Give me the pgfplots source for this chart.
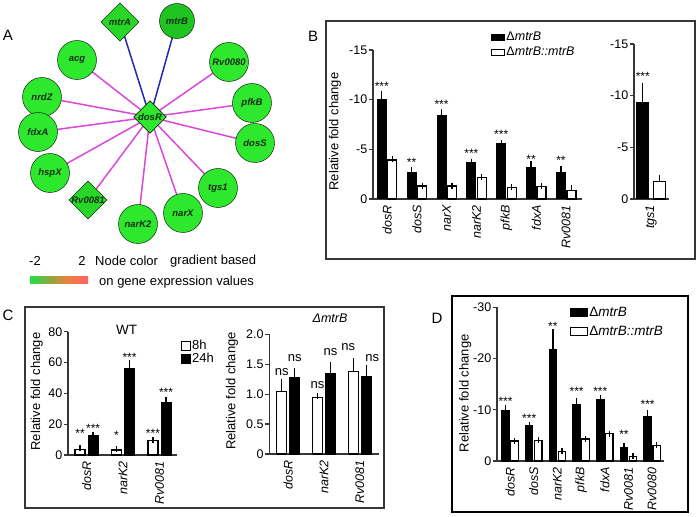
\documentclass[border=0pt]{standalone}
\usepackage{pgfplots}
\pgfplotsset{compat=1.18}
\usepackage{fontspec}
\setmainfont{Liberation Sans}
\definecolor{ngreen}{RGB}{46,232,46}
\definecolor{ngreenD}{RGB}{32,196,32}
\definecolor{ngreenM}{RGB}{40,214,40}
\definecolor{emag}{RGB}{218,72,218}
\definecolor{eblue}{RGB}{36,40,176}
\definecolor{axg}{RGB}{55,55,55}
\definecolor{ntext}{RGB}{20,45,20}
\definecolor{gA}{RGB}{30,222,70}
\definecolor{gB}{RGB}{130,175,60}
\definecolor{gC}{RGB}{236,128,64}
\definecolor{gD}{RGB}{255,98,98}
\pgfdeclarehorizontalshading{exprgrad}{100bp}{color(0bp)=(gA); color(25bp)=(gA); color(40bp)=(gB); color(58bp)=(gC); color(75bp)=(gD); color(100bp)=(gD)}
\newcommand{\fs}[1]{\fontsize{#1}{#1}\selectfont}
\newcommand{\stt}[4]{\node[font=\fs{12}, inner sep=0pt, yshift=-2.7pt, xshift=#3] at (axis cs:#1,#2) {#4};}
\newcommand{\nsl}[3]{\node[font=\fs{13}, inner sep=0pt, xshift=#3] at (axis cs:#1,#2) {ns};}
\pgfplotsset{
  gp/.style={
    scale only axis, anchor=south west, clip=false,
    axis x line*=bottom, axis y line*=left,
    axis line style={line width=1.3pt, draw=axg},
    tick align=outside, major tick length=4pt,
    ytick style={line width=1.2pt, draw=axg},
    xtick style={draw=none},
    yticklabel style={font=\fs{12.5}, inner sep=1.5pt},
    xticklabel style={rotate=90, anchor=east, font=\fs{12.5}\itshape, inner sep=2pt},
    every axis y label/.style={rotate=90, anchor=center, font=\fs{13}},
    /pgf/number format/assume math mode=true,
    xtick=data, enlargelimits=false,
    error bars/error bar style={line width=1.2pt, black},
    error bars/error mark options={line width=1.2pt, mark size=3pt, black},
    legend cell align=left,
  },
  bk/.style={fill=black, draw=black, line width=1pt},
  wh/.style={fill=white, draw=black, line width=1.2pt},
  legB/.style={legend image code/.code={\draw[##1] (0pt,-3pt) rectangle (13pt,3pt);}},
  legC/.style={legend image code/.code={\draw[##1] (0pt,-4.5pt) rectangle (9pt,4.5pt);}},
  legD/.style={legend image code/.code={\draw[##1] (0pt,-4pt) rectangle (17pt,4pt);}},
}
\begin{document}
\begin{tikzpicture}
\useasboundingbox (0pt,0pt) rectangle (700pt,516pt);

% ---------------- Panel A: network ----------------
\node[font=\fs{15}] at (8pt,481pt) {A};
\begin{axis}[at={(0pt,266pt)}, anchor=south west, scale only axis, width=270pt, height=250pt,
  xmin=0, xmax=270, ymin=0, ymax=250, hide axis, clip=false]
\addplot[eblue, line width=1.5pt, no marks] coordinates {(150,133) (120,228)};
\addplot[eblue, line width=1.5pt, no marks] coordinates {(150,133) (177,229)};
\addplot[emag, line width=1.5pt, no marks] coordinates {(150,133) (77,190)};
\addplot[emag, line width=1.5pt, no marks] coordinates {(150,133) (229,188)};
\addplot[emag, line width=1.5pt, no marks] coordinates {(150,133) (42,153)};
\addplot[emag, line width=1.5pt, no marks] coordinates {(150,133) (252,147)};
\addplot[emag, line width=1.5pt, no marks] coordinates {(150,133) (38,118)};
\addplot[emag, line width=1.5pt, no marks] coordinates {(150,133) (255,107)};
\addplot[emag, line width=1.5pt, no marks] coordinates {(150,133) (50,77)};
\addplot[emag, line width=1.5pt, no marks] coordinates {(150,133) (218,62)};
\addplot[emag, line width=1.5pt, no marks] coordinates {(150,133) (88,50)};
\addplot[emag, line width=1.5pt, no marks] coordinates {(150,133) (183,37)};
\addplot[emag, line width=1.5pt, no marks] coordinates {(150,133) (138,26)};
\addplot[only marks, mark=*, mark size=19.5pt, mark options={fill=ngreen, draw=none},
  nodes near coords, point meta=explicit symbolic, nodes near coords align=center,
  every node near coord/.append style={font=\fs{9.5}\bfseries\itshape, text=ntext}]
  table[meta=lab] {
x y lab
77 190 acg
229 188 Rv0080
42 153 nrdZ
252 147 pfkB
38 118 fdxA
255 107 dosS
50 77 hspX
218 62 tgs1
183 37 narX
138 26 narK2
};
\addplot[only marks, mark=*, mark size=17.5pt, mark options={fill=ngreenD, draw=none},
  nodes near coords, point meta=explicit symbolic, nodes near coords align=center,
  every node near coord/.append style={font=\fs{9.5}\bfseries\itshape, text=ntext}]
  table[meta=lab] {
x y lab
177 229 mtrB
};
\addplot[only marks, mark=square*, mark size=13.5pt, mark options={rotate=45, fill=ngreenM, draw=none},
  nodes near coords, point meta=explicit symbolic, nodes near coords align=center,
  every node near coord/.append style={font=\fs{9.5}\bfseries\itshape, text=ntext}]
  table[meta=lab] {
x y lab
120 228 mtrA
88 50 Rv0081
};
\addplot[only marks, mark=square*, mark size=11.5pt, mark options={rotate=45, fill=ngreen, draw=none},
  nodes near coords, point meta=explicit symbolic, nodes near coords align=center,
  every node near coord/.append style={font=\fs{9.5}\bfseries\itshape, text=ntext}]
  table[meta=lab] {
x y lab
150 133 dosR
};
\end{axis}
% gradient legend
\shade[shading=exprgrad] (30pt,232pt) rectangle (88pt,239pt);
\node[font=\fs{13}] at (35pt,255pt) {-2};
\node[font=\fs{13}] at (82pt,255pt) {2};
\node[font=\fs{13}, anchor=west, inner sep=0pt] at (95pt,255pt) {Node color};
\node[font=\fs{13}, anchor=west, inner sep=0pt] at (170pt,255pt) {gradient based};
\node[font=\fs{13}, anchor=west, inner sep=0pt] at (99pt,234pt) {on gene expression values};

% ---------------- Panel B ----------------
\node[font=\fs{15}] at (313pt,480pt) {B};
\draw[line width=1.2pt, draw=axg] (326pt,257pt) rectangle (695pt,495pt);
\begin{axis}[gp, at={(373pt,317pt)}, width=209pt, height=149pt,
  ybar=1.5pt, bar width=9pt,
  xmin=-0.47, xmax=6.53, ymin=-15, ymax=0, y dir=reverse,
  ytick={-15,-10,-5,0}, yticklabels={-15,-10,-5,0},
  xticklabels={dosR,dosS,narX,narK2,pfkB,fdxA,Rv0081},
  ylabel={Relative fold change},
  every axis y label/.append style={at={(axis description cs:-0.182,0.453)}},
  legend style={at={(axis description cs:0.565,1.128)}, anchor=north west, draw=none, fill=none,
    font=\fs{12.5}, row sep=3pt, inner sep=0pt, nodes={inner sep=1pt}},
]
\addplot[bk, legB, error bars/.cd, y dir=minus, y explicit] coordinates {
(0,-9.97) +- (0,0.63)
(1,-2.65) +- (0,0.27)
(2,-8.36) +- (0,0.36)
(3,-3.66) +- (0,0.1)
(4,-5.54) +- (0,0.1)
(5,-3.15) +- (0,0.35)
(6,-2.69) +- (0,0.3)
};
\addlegendentry{Δ\textit{mtrB}}
\addplot[wh, legB, error bars/.cd, y dir=minus, y explicit] coordinates {
(0,-3.93) +- (0,0.05)
(1,-1.30) +- (0,0.05)
(2,-1.30) +- (0,0.05)
(3,-2.18) +- (0,0.08)
(4,-1.14) +- (0,0.05)
(5,-1.24) +- (0,0.05)
(6,-0.84) +- (0,0.25)
};
\addlegendentry{Δ\textit{mtrB::mtrB}}
\stt{0}{-11.58}{-5.25pt}{***}
\stt{1}{-3.93}{-5.25pt}{**}
\stt{2}{-9.77}{-5.25pt}{***}
\stt{3}{-4.83}{-5.25pt}{***}
\stt{4}{-6.75}{-5.25pt}{***}
\stt{5}{-4.23}{-5.25pt}{**}
\stt{6}{-4.13}{-5.25pt}{**}
\end{axis}
\begin{axis}[gp, at={(634pt,317pt)}, width=35pt, height=155pt,
  ybar=4.5pt, bar width=12pt,
  xmin=-0.486, xmax=0.514, ymin=-15, ymax=0, y dir=reverse,
  ytick={-15,-10,-5,0}, yticklabels={-15,-10,-5,0},
  xticklabels={tgs1},
]
\addplot[bk, error bars/.cd, y dir=minus, y explicit] coordinates {(0,-9.36) +- (0,1.6)};
\addplot[wh, error bars/.cd, y dir=minus, y explicit] coordinates {(0,-1.67) +- (0,0.33)};
\stt{0}{-12.1}{-8.25pt}{***}
\end{axis}

% ---------------- Panel C ----------------
\node[font=\fs{15}] at (8pt,201pt) {C};
\draw[line width=1.1pt, draw=axg] (25pt,8pt) rectangle (384pt,209pt);
\node[font=\fs{13.5}] at (126.7pt,186pt) {WT};
\begin{axis}[gp, at={(68pt,61pt)}, width=109pt, height=123.3pt,
  ybar=3pt, bar width=10pt,
  xmin=-0.51, xmax=2.48, ymin=0, ymax=80,
  ytick={0,20,40,60,80},
  xticklabels={dosR,narK2,Rv0081},
  ylabel={Relative fold change},
  every axis y label/.append style={at={(axis description cs:-0.286,0.515)}},
  legend style={at={(axis description cs:1.037,0.937)}, anchor=north west, draw=none, fill=none,
    font=\fs{13}, row sep=0.5pt, inner sep=0pt, nodes={inner sep=0.8pt}},
]
\addplot[wh, legC, error bars/.cd, y dir=plus, y explicit] coordinates {
(0,3.8) +- (0,0.5)
(1,3.2) +- (0,0.6)
(2,9.2) +- (0,0.6)
};
\addlegendentry{8h}
\addplot[bk, legC, error bars/.cd, y dir=plus, y explicit] coordinates {
(0,12.5) +- (0,0.8)
(1,56.2) +- (0,3.3)
(2,33.8) +- (0,2.0)
};
\addlegendentry{24h}
\stt{0}{15.8}{-6.5pt}{**}
\stt{1}{14.7}{-6.5pt}{*}
\stt{2}{15.6}{-6.5pt}{***}
\stt{0}{18.8}{6.5pt}{***}
\stt{1}{64.9}{6.5pt}{***}
\stt{2}{42.2}{6.5pt}{***}
\end{axis}
\node[font=\fs{12.5}\itshape] at (330pt,198pt) {ΔmtrB};
\begin{axis}[gp, at={(269.3pt,62pt)}, width=109.7pt, height=119.7pt,
  ybar=3pt, bar width=10pt,
  xmin=-0.53, xmax=2.54, ymin=0, ymax=2,
  ytick={0,0.5,1,1.5,2}, yticklabels={0,0.5,1.0,1.5,2.0},
  xticklabels={dosR,narK2,Rv0081},
  ylabel={Relative fold change},
  every axis y label/.append style={at={(axis description cs:-0.34,0.526)}},
]
\addplot[wh, error bars/.cd, y dir=plus, y explicit] coordinates {
(0,1.05) +- (0,0.15)
(1,0.94) +- (0,0.03)
(2,1.38) +- (0,0.17)
};
\addplot[bk, error bars/.cd, y dir=plus, y explicit] coordinates {
(0,1.27) +- (0,0.11)
(1,1.34) +- (0,0.15)
(2,1.30) +- (0,0.14)
};
\nsl{0}{1.376}{-6.5pt}
\nsl{0}{1.60}{6.5pt}
\nsl{1}{1.154}{-6.5pt}
\nsl{1}{1.71}{6.5pt}
\nsl{2}{1.794}{-11.5pt}
\nsl{2}{1.60}{12.5pt}
\end{axis}

% ---------------- Panel D ----------------
\node[font=\fs{15}] at (437pt,198pt) {D};
\draw[line width=2pt, draw=black] (452pt,4pt) rectangle (688pt,220pt);
\begin{axis}[gp, at={(497pt,55pt)}, width=167pt, height=153.7pt,
  ybar=1.5pt, bar width=7.5pt,
  xmin=-0.55, xmax=6.5, ymin=-30, ymax=0, y dir=reverse,
  ytick={-30,-20,-10,0}, yticklabels={-30,-20,-10,0},
  xticklabels={dosR,dosS,narK2,pfkB,fdxA,Rv0081,Rv0080},
  ylabel={Relative fold change},
  every axis y label/.append style={at={(axis description cs:-0.19,0.44)}},
  legend style={at={(axis description cs:0.437,1.008)}, anchor=north west, draw=none, fill=none,
    font=\fs{13.5}, row sep=6pt, inner sep=0pt, nodes={inner sep=1pt}},
]
\addplot[bk, legD, error bars/.cd, y dir=minus, y explicit] coordinates {
(0,-9.9) +- (0,0.5)
(1,-6.9) +- (0,0.1)
(2,-21.7) +- (0,3.5)
(3,-11.1) +- (0,0.6)
(4,-12.1) +- (0,0.2)
(5,-2.7) +- (0,0.2)
(6,-8.7) +- (0,0.6)
};
\addlegendentry{Δ\textit{mtrB}}
\addplot[wh, legD, error bars/.cd, y dir=minus, y explicit] coordinates {
(0,-3.9) +- (0,0.05)
(1,-4.0) +- (0,0.05)
(2,-1.9) +- (0,0.05)
(3,-4.3) +- (0,0.05)
(4,-5.3) +- (0,0.05)
(5,-0.9) +- (0,0.05)
(6,-3.0) +- (0,0.05)
};
\addlegendentry{Δ\textit{mtrB::mtrB}}
\stt{0}{-12.2}{-4.5pt}{***}
\stt{1}{-8.8}{-4.5pt}{***}
\stt{2}{-26.8}{-4.5pt}{**}
\stt{3}{-14.1}{-4.5pt}{***}
\stt{4}{-14.2}{-4.5pt}{***}
\stt{5}{-5.8}{-4.5pt}{**}
\stt{6}{-11.5}{-4.5pt}{***}
\end{axis}
\end{tikzpicture}
\end{document}
